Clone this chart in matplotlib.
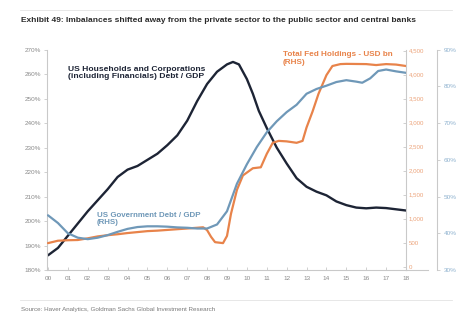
import matplotlib
matplotlib.use("Agg")
import matplotlib.pyplot as plt
from matplotlib.lines import Line2D
from matplotlib.ticker import FuncFormatter

# ---- data -------------------------------------------------------------
# private sector (households + corporations incl. financials) debt / GDP, %
private_years = [0.0, 0.5, 1.0, 1.5, 2.0, 2.5, 3.0, 3.5, 4.0, 4.5, 5.0, 5.5,
                 6.0, 6.5, 7.0, 7.5, 8.0, 8.5, 9.0, 9.3, 9.6, 10.0, 10.3,
                 10.6, 11.0, 11.5, 12.0, 12.5, 13.0, 13.5, 14.0, 14.5, 15.0,
                 15.5, 16.0, 16.5, 17.0, 17.5, 18.0]
private_debt = [186, 189, 194, 199, 204, 208.5, 213, 218, 221, 222.5, 225,
                227.5, 231, 235, 241, 249, 256, 261, 264, 265, 264, 258,
                252, 245, 238, 230, 223.5, 217.5, 214, 212, 210.5, 208,
                206.5, 205.5, 205.2, 205.5, 205.3, 204.8, 204.3]

# US government debt / GDP, % (RHS)
gov_years = [0.0, 0.5, 1.0, 1.5, 2.0, 2.5, 3.0, 3.5, 4.0, 4.5, 5.0, 5.5, 6.0,
             6.5, 7.0, 7.5, 8.0, 8.5, 9.0, 9.5, 10.0, 10.5, 11.0, 11.5, 12.0,
             12.5, 13.0, 13.5, 14.0, 14.5, 15.0, 15.5, 15.8, 16.2, 16.6, 17.0,
             17.5, 18.0]
gov_debt = [44.9, 42.8, 40.0, 38.8, 38.4, 38.8, 39.5, 40.4, 41.2, 41.7, 41.9,
            41.9, 41.8, 41.6, 41.5, 41.3, 41.3, 42.4, 46.0, 53.5, 58.8, 63.5,
            67.5, 70.5, 73.0, 75.0, 78.0, 79.3, 80.2, 81.2, 81.7, 81.3, 81.0,
            82.2, 84.2, 84.6, 84.1, 83.7]

# total Fed holdings, USD bn (RHS)
fed_years = [0.0, 0.5, 1.0, 1.5, 2.0, 2.5, 3.0, 3.5, 4.0, 4.5, 5.0, 5.5, 6.0,
             6.5, 7.0, 7.5, 7.8, 8.0, 8.2, 8.4, 8.8, 9.0, 9.2, 9.5, 9.8, 10.0,
             10.3, 10.7, 11.0, 11.3, 11.6, 12.0, 12.5, 12.8, 13.0, 13.3, 13.6,
             14.0, 14.3, 14.7, 15.0, 16.0, 16.5, 17.0, 17.5, 18.0]
fed_holdings = [490, 540, 550, 555, 590, 630, 655, 675, 700, 720, 740, 750,
                765, 780, 795, 810, 820, 760, 620, 510, 490, 640, 1100, 1600,
                1900, 1960, 2050, 2070, 2350, 2580, 2620, 2610, 2580, 2620,
                2900, 3230, 3600, 3990, 4180, 4220, 4225, 4220, 4200, 4220,
                4210, 4180]

year_labels = ["00", "01", "02", "03", "04", "05", "06", "07", "08", "09",
               "10", "11", "12", "13", "14", "15", "16", "17", "18"]
left_ticks = [180, 190, 200, 210, 220, 230, 240, 250, 260, 270]
fed_ticks = [0, 500, 1000, 1500, 2000, 2500, 3000, 3500, 4000, 4500]
gov_ticks = [30, 40, 50, 60, 70, 80, 90]

# ---- style --------------------------------------------------------------
NAVY = "#1d2435"
BLUE = "#6f98b8"
ORANGE = "#e8834a"
GRID = "#c9c9c9"
TICK = "#8a8a8a"
plt.rcParams["font.family"] = ["Liberation Sans", "DejaVu Sans"]

W, H = 464, 330
fig = plt.figure(figsize=(W / 100, H / 100), dpi=100)
fig.patch.set_facecolor("white")

x0, x1, ytop, ybot = 47, 406, 49.7, 270
ax = fig.add_axes([x0 / W, 1 - ybot / H, (x1 - x0) / W, (ybot - ytop) / H])
ax2 = ax.twinx()
ax3 = ax.twinx()
ax3.spines["right"].set_position(("outward", 22))

ax.plot(private_years, private_debt, color=NAVY, lw=1.7, solid_capstyle="round")
ax2.plot(fed_years, fed_holdings, color=ORANGE, lw=1.6, solid_capstyle="round")
ax3.plot(gov_years, gov_debt, color=BLUE, lw=1.6, solid_capstyle="round")

ax.set_xlim(-0.05, 18.0)
ax.set_ylim(180, 270)
ax2.set_ylim(-70, 4520)
ax3.set_ylim(30, 90)

ax.set_xticks(range(len(year_labels)))
ax.set_xticklabels(year_labels)
ax.set_yticks(left_ticks)
ax.yaxis.set_major_formatter(FuncFormatter(lambda v, p: f"{v:.0f}%"))
ax2.set_yticks(fed_ticks)
ax2.yaxis.set_major_formatter(FuncFormatter(lambda v, p: f"{v:,.0f}"))
ax3.set_yticks(gov_ticks)
ax3.yaxis.set_major_formatter(FuncFormatter(lambda v, p: f"{v:.0f}%"))

for a in (ax, ax2, ax3):
    for s in a.spines.values():
        s.set_color(GRID)
        s.set_linewidth(0.8)
    a.spines["top"].set_visible(False)
ax.spines["right"].set_visible(False)
ax2.spines["left"].set_visible(False)
ax3.spines["left"].set_visible(False)
ax2.spines["bottom"].set_visible(False)
ax3.spines["bottom"].set_visible(False)

ax.tick_params(axis="x", direction="in", length=2, width=0.6, color=GRID,
               labelsize=4.6, labelcolor=TICK, pad=4)
ax.tick_params(axis="y", direction="out", length=2, width=0.6, color=GRID,
               labelsize=4.6, labelcolor=TICK, pad=2)
ax2.tick_params(axis="y", direction="in", length=2, width=0.6, color=GRID,
                labelsize=4.4, labelcolor="#eca37a", pad=2)
ax3.tick_params(axis="y", direction="out", length=2, width=0.6, color=GRID,
                labelsize=4.6, labelcolor="#8fb2cf", pad=3)

# extend the baseline across to the outer right-hand axis
fig.add_artist(Line2D([x1 / W, 428.5 / W], [1 - ybot / H, 1 - ybot / H],
                      color=GRID, lw=0.8))

# ---- series labels ------------------------------------------------------
ax.text(1.0, 263.5, "US Households and Corporations\n(including Financials) Debt / GDP",
        color=NAVY, fontsize=6.1, fontweight="bold", va="top", ha="left",
        linespacing=1.1)
ax2.text(11.8, 4490, "Total Fed Holdings - USD bn\n(RHS)",
         color=ORANGE, fontsize=5.9, fontweight="bold", va="top", ha="left",
         linespacing=1.1)
ax3.text(2.45, 45.8, "US Government Debt / GDP\n(RHS)",
         color=BLUE, fontsize=5.7, fontweight="bold", va="top", ha="left",
         linespacing=1.1)

# ---- header / footer ----------------------------------------------------
fig.add_artist(Line2D([20 / W, 452 / W], [1 - 10 / H, 1 - 10 / H],
                      color="#e3e3e3", lw=0.6))
fig.text(21 / W, 1 - 20 / H,
         "Exhibit 49: Imbalances shifted away from the private sector to the public sector and central banks",
         fontsize=6.05, fontweight="bold", color="#2b2b2b", va="center", ha="left",
         family=["Liberation Sans Narrow", "Liberation Sans", "DejaVu Sans"])
fig.add_artist(Line2D([20 / W, 452 / W], [1 - 300 / H, 1 - 300 / H],
                      color="#e3e3e3", lw=0.6))
fig.text(21 / W, 1 - 309 / H,
         "Source: Haver Analytics, Goldman Sachs Global Investment Research",
         fontsize=4.5, color="#7a7a7a", va="center", ha="left")

fig.savefig("out.png", dpi=100, facecolor="white")
